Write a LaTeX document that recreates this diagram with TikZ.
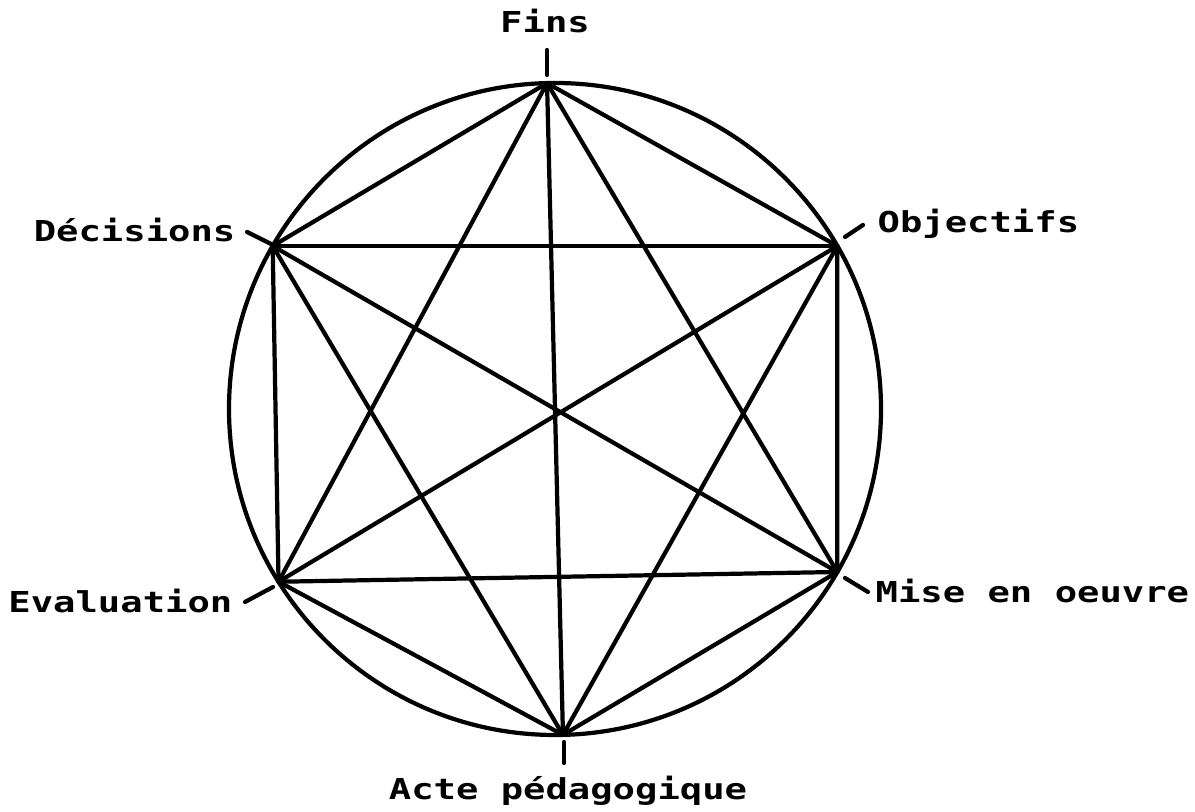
\documentclass[tikz,border=0pt]{standalone}
\usepackage{fontspec}
\usetikzlibrary{calc}
\newfontfamily\machine[FakeStretch=1.29]{DejaVu Sans Mono Bold}
\tikzset{
  trait/.style={line width=1.2pt, line cap=round},
  etiquette/.style={inner sep=0pt, font=\machine\fontsize{8.2pt}{10pt}\selectfont}
}
\begin{document}
\begin{tikzpicture}[line join=round]
    \useasboundingbox (0, 0) rectangle (11.95, 8.12);

    % cercle
    \coordinate (C) at (5.55, 4.03);
    \draw[trait] (C) circle (3.26);

    % sommets de l'hexagone
    \coordinate (fins) at ($(C)+(91.4:3.26)$);
    \coordinate (obj) at ($(C)+(30:3.26)$);
    \coordinate (mise) at ($(C)+(-30:3.26)$);
    \coordinate (acte) at ($(C)+(-88.6:3.26)$);
    \coordinate (eval) at ($(C)+(212:3.26)$);
    \coordinate (dec) at ($(C)+(150:3.26)$);

    % cotes
    \draw[trait] (fins) -- (obj) -- (mise) -- (acte) -- (eval) -- (dec) -- cycle;

    % diagonales
    \draw[trait] (fins) -- (mise);
    \draw[trait] (fins) -- (acte);
    \draw[trait] (fins) -- (eval);
    \draw[trait] (obj) -- (acte);
    \draw[trait] (obj) -- (eval);
    \draw[trait] (obj) -- (dec);
    \draw[trait] (mise) -- (eval);
    \draw[trait] (mise) -- (dec);
    \draw[trait] (acte) -- (dec);

    % traits de rappel
    \coordinate (t1a) at (5.47, 7.62);
    \coordinate (t1b) at (5.47, 7.37);
    \draw[trait] (t1a) -- (t1b);
    \coordinate (t2a) at (2.47, 5.80);
    \coordinate (t2b) at (2.73, 5.67);
    \draw[trait] (t2a) -- (t2b);
    \coordinate (t3a) at (8.45, 5.75);
    \coordinate (t3b) at (8.63, 5.87);
    \draw[trait] (t3a) -- (t3b);
    \coordinate (t4a) at (2.45, 2.10);
    \coordinate (t4b) at (2.73, 2.25);
    \draw[trait] (t4a) -- (t4b);
    \coordinate (t5a) at (8.45, 2.34);
    \coordinate (t5b) at (8.68, 2.20);
    \draw[trait] (t5a) -- (t5b);
    \coordinate (t6a) at (5.64, 0.70);
    \coordinate (t6b) at (5.64, 0.49);
    \draw[trait] (t6a) -- (t6b);

    % etiquettes
    \node[etiquette, anchor=base] (lfins) at (5.45, 7.79) {Fins};
    \node[etiquette, anchor=base east] (ldec) at (2.36, 5.70) {Décisions};
    \node[etiquette, anchor=base west] (lobj) at (8.77, 5.79) {Objectifs};
    \node[etiquette, anchor=base east] (leval) at (2.33, 1.99) {Evaluation};
    \node[etiquette, anchor=base west] (lmise) at (8.75, 2.09) {Mise en oeuvre};
    \node[etiquette, anchor=base] (lacte) at (5.68, 0.12) {Acte pédagogique};
\end{tikzpicture}
\end{document}
